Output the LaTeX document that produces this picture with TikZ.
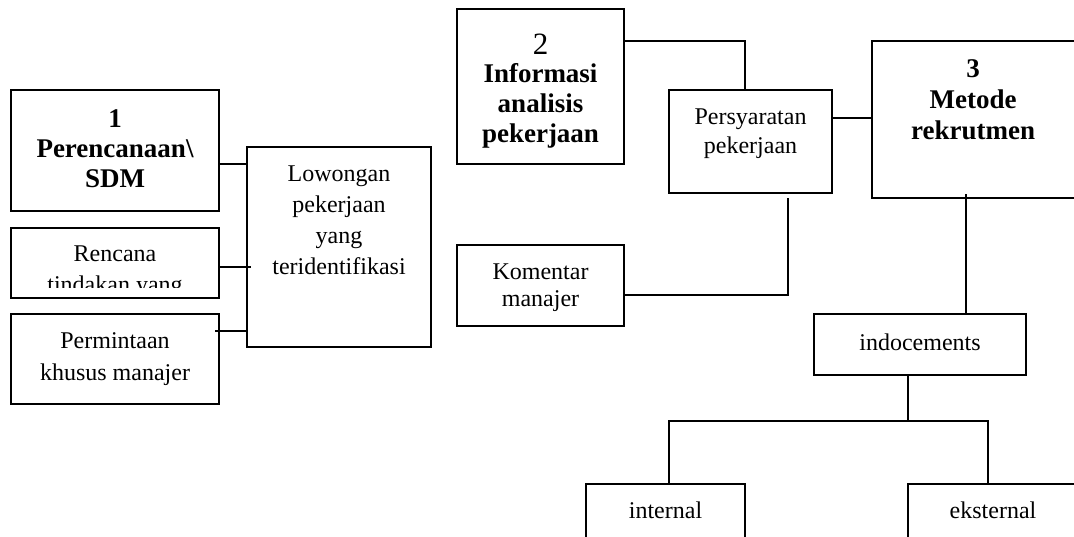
\documentclass[tikz,border=0pt]{standalone}
\usepackage{fontspec}
\setmainfont{Liberation Serif}
\usetikzlibrary{fit}
\begin{document}
\begin{tikzpicture}[x=0.5pt,y=-0.5pt,
  box/.style={draw,line width=1pt,inner sep=0pt,fit={#1}},
  txt/.style={align=center,inner sep=0pt,font=\fontsize{12}{15.5}\selectfont},
  btxt/.style={align=center,inner sep=0pt,font=\fontsize{13.5}{15}\selectfont\bfseries},
  conn/.style={line width=1pt}]
\useasboundingbox (0,0) rectangle (1074,536);
% boxes
\node[box={(11,90) (219,211)}] (b1) {};
\node[box={(247,147) (431,347)}] (low) {};
\node[box={(11,228) (219,298)}] (ren) {};
\node[box={(11,314) (219,404)}] (perm) {};
\node[box={(457,9) (624,164)}] (b2) {};
\node[box={(669,90) (832,193)}] (per) {};
\node[box={(872,41) (1080,198)}] (b3) {};
\node[box={(457,245) (624,326)}] (kom) {};
\node[box={(814,314) (1026,375)}] (ind) {};
\node[box={(586,484) (745,560)}] (int) {};
\node[box={(908,484) (1080,560)}] (eks) {};
% texts
\node[btxt] (t1) at (115,149) {1\\Perencanaan\textbackslash\\SDM};
\node[txt] (tlow) at (339,220) {Lowongan\\pekerjaan\\yang\\teridentifikasi};
\begin{scope}
\clip (11,228) rectangle (219,287);
\node[txt] (tren) at (115,271.5) {Rencana\\tindakan yang};
\end{scope}
\node[txt,font=\fontsize{12}{16}\selectfont] (tperm) at (115,359) {Permintaan\\khusus manajer};
\node[txt,font=\fontsize{15.5}{18}\selectfont] (t2) at (540.5,44) {2};
\node[btxt] (t2b) at (540.5,106) {Informasi\\analisis\\pekerjaan};
\node[txt,font=\fontsize{12}{14.5}\selectfont] (tper) at (750.5,134) {Persyaratan\\pekerjaan};
\node[btxt,font=\fontsize{13.5}{15.5}\selectfont\bfseries] (t3) at (973,100) {3\\Metode\\rekrutmen};
\node[txt,font=\fontsize{12}{13.5}\selectfont] (tkom) at (540.5,287.5) {Komentar\\manajer};
\node[txt] (tind) at (920,342) {indocements};
\node[txt] (tint) at (665.5,510) {internal};
\node[txt] (teks) at (993,510) {eksternal};
% connectors
\draw[conn] ([xshift=-1pt]b1.east |- 0,164) -- (low.west |- 0,164);
\draw[conn] (ren.east |- 0,267) -- ([xshift=2.5pt]low.west |- 0,267);
\draw[conn] ([xshift=-2.5pt]perm.east |- 0,331) -- (low.west |- 0,331);
\draw[conn] (b2.east |- 0,41) -| (per.north -| 745,0);
\draw[conn] (per.east |- 0,118) -- (b3.west |- 0,118);
\coordinate (kend) at (788,198);
\draw[conn] (kom.east |- 0,295) -| (kend);
\draw[conn] ([yshift=2.5pt]b3.south -| 966,0) -- (ind.north -| 966,0);
\coordinate (br) at (908,421);
\draw[conn] (ind.south -| br) -- (br);
\draw[conn] (int.north -| 669,0) |- (br) -| (eks.north -| 988,0);
\end{tikzpicture}
\end{document}
